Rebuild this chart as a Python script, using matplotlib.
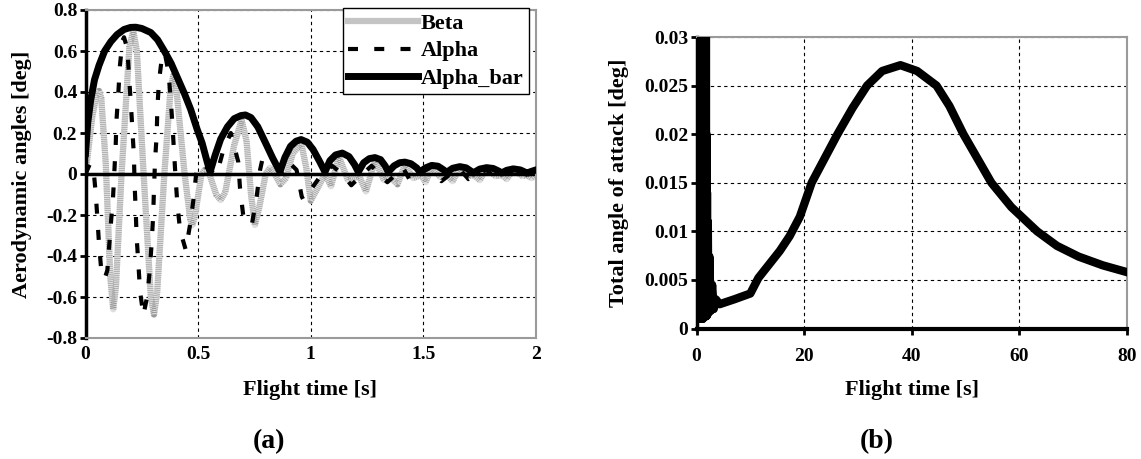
import matplotlib
matplotlib.use("Agg")
import matplotlib.pyplot as plt
import numpy as np

plt.rcParams['font.family'] = ['Liberation Serif', 'DejaVu Serif']
plt.rcParams['font.weight'] = 'bold'

# (a) aerodynamic angles [deg] vs flight time [s]
beta_pts = [
    (0.000, 0.00), (0.030, 0.28), (0.050, 0.39), (0.060, 0.405), (0.070, 0.37),
    (0.090, 0.05), (0.110, -0.50), (0.123, -0.66), (0.135, -0.55), (0.160, 0.00),
    (0.195, 0.62), (0.212, 0.70), (0.228, 0.60), (0.258, 0.00), (0.290, -0.60),
    (0.304, -0.685), (0.318, -0.58), (0.350, 0.00), (0.378, 0.42), (0.390, 0.48),
    (0.402, 0.43), (0.440, 0.00), (0.465, -0.22), (0.474, -0.25), (0.485, -0.21),
    (0.515, 0.00), (0.530, 0.02), (0.550, 0.00), (0.580, -0.10), (0.600, -0.127),
    (0.620, -0.09), (0.660, 0.14), (0.693, 0.264), (0.715, 0.16), (0.735, -0.10),
    (0.752, -0.249), (0.770, -0.17), (0.800, 0.00), (0.819, 0.03), (0.840, 0.00),
    (0.865, -0.05), (0.890, -0.02), (0.920, 0.10), (0.958, 0.15), (0.980, 0.03),
    (1.000, -0.13), (1.025, -0.08), (1.063, 0.00), (1.090, -0.06), (1.125, 0.085),
    (1.165, -0.03), (1.215, -0.01), (1.245, -0.085), (1.285, 0.065), (1.325, -0.03),
    (1.350, -0.01), (1.385, -0.05), (1.418, 0.045), (1.455, -0.02), (1.490, -0.005),
    (1.510, -0.04), (1.537, 0.035), (1.575, -0.015), (1.605, -0.005), (1.630, -0.035),
    (1.662, 0.03), (1.700, -0.01), (1.725, -0.005), (1.750, -0.03), (1.781, 0.025),
    (1.820, -0.01), (1.850, -0.005), (1.870, -0.025), (1.899, 0.02), (1.940, -0.01),
    (1.960, -0.005), (1.980, -0.02), (2.000, 0.00),
]

alpha_pts = [
    (0.000, 0.00), (0.020, 0.05), (0.035, 0.03), (0.045, -0.09), (0.053, -0.22),
    (0.060, -0.34), (0.070, -0.47), (0.085, -0.51), (0.097, -0.47), (0.112, -0.25),
    (0.122, -0.12), (0.134, 0.14), (0.138, 0.27), (0.146, 0.40), (0.153, 0.53),
    (0.164, 0.65), (0.171, 0.667), (0.186, 0.61), (0.193, 0.48), (0.201, 0.35),
    (0.208, 0.22), (0.215, 0.085), (0.218, -0.05), (0.223, -0.18), (0.227, -0.31),
    (0.235, -0.44), (0.242, -0.57), (0.257, -0.69), (0.275, -0.59), (0.286, -0.46),
    (0.294, -0.33), (0.301, -0.19), (0.304, -0.07), (0.309, 0.07), (0.316, 0.19),
    (0.319, 0.32), (0.326, 0.45), (0.341, 0.585), (0.352, 0.59), (0.368, 0.50),
    (0.378, 0.37), (0.386, 0.24), (0.393, 0.11), (0.400, -0.02), (0.408, -0.15),
    (0.420, -0.275), (0.445, -0.37), (0.467, -0.23), (0.482, -0.10), (0.494, 0.03),
    (0.520, 0.05), (0.550, 0.02), (0.582, -0.005), (0.612, 0.117), (0.645, 0.20),
    (0.678, 0.06), (0.686, -0.07), (0.700, -0.20), (0.738, -0.25), (0.760, -0.11),
    (0.775, 0.02), (0.797, 0.13), (0.810, 0.14), (0.840, 0.05), (0.865, 0.00),
    (0.900, 0.06), (0.937, 0.02), (0.960, -0.11), (0.967, -0.125), (1.004, -0.07),
    (1.050, 0.00), (1.095, 0.04), (1.140, 0.00), (1.180, -0.055), (1.230, 0.00),
    (1.270, 0.04), (1.310, -0.01), (1.340, -0.04), (1.380, 0.00), (1.410, 0.03),
    (1.440, -0.03), (1.480, 0.00), (1.530, 0.03), (1.580, -0.035), (1.620, 0.00),
    (1.660, 0.025), (1.700, -0.025), (1.740, 0.00), (1.780, 0.02), (1.820, -0.02),
    (1.860, 0.00), (1.900, 0.018), (1.940, -0.015), (1.970, 0.00), (2.000, 0.015),
]

alpha_bar_pts = [
    (0.000, 0.10), (0.010, 0.25), (0.023, 0.36), (0.040, 0.46), (0.060, 0.53),
    (0.085, 0.60), (0.112, 0.645), (0.140, 0.68), (0.171, 0.705), (0.200, 0.715),
    (0.223, 0.716), (0.250, 0.71), (0.290, 0.69), (0.320, 0.655), (0.350, 0.60),
    (0.380, 0.54), (0.408, 0.47), (0.440, 0.39), (0.467, 0.315), (0.495, 0.22),
    (0.518, 0.15), (0.540, 0.06), (0.553, 0.01),
    (0.575, 0.09), (0.600, 0.17), (0.630, 0.23), (0.660, 0.27), (0.690, 0.285),
    (0.710, 0.288), (0.735, 0.275), (0.765, 0.23), (0.800, 0.15), (0.830, 0.08),
    (0.863, 0.01),
    (0.885, 0.08), (0.910, 0.135), (0.935, 0.16), (0.957, 0.168), (0.985, 0.155),
    (1.010, 0.12), (1.040, 0.06), (1.063, 0.01),
    (1.085, 0.065), (1.110, 0.093), (1.140, 0.102), (1.170, 0.085), (1.195, 0.045),
    (1.211, 0.01),
    (1.235, 0.055), (1.260, 0.075), (1.285, 0.08), (1.310, 0.07), (1.330, 0.04),
    (1.344, 0.01),
    (1.370, 0.04), (1.395, 0.055), (1.418, 0.058), (1.445, 0.05), (1.470, 0.03),
    (1.485, 0.01),
    (1.510, 0.03), (1.537, 0.042), (1.565, 0.038), (1.590, 0.02), (1.603, 0.008),
    (1.630, 0.028), (1.662, 0.036), (1.690, 0.03), (1.710, 0.015), (1.721, 0.005),
    (1.750, 0.024), (1.781, 0.031), (1.810, 0.027), (1.835, 0.014), (1.847, 0.005),
    (1.870, 0.018), (1.899, 0.025), (1.930, 0.02), (1.950, 0.01), (1.958, 0.004),
    (1.980, 0.013), (2.000, 0.02),
]

# (b) total angle of attack [deg] vs flight time [s]
total_pts = [
    (0.0, 0.05), (0.05, 0.9), (0.1, 0.002), (0.15, 0.85), (0.2, 0.001), (0.25, 0.8),
    (0.3, 0.002), (0.35, 0.7), (0.4, 0.001), (0.45, 0.6), (0.5, 0.001), (0.55, 0.55),
    (0.6, 0.001), (0.65, 0.5), (0.7, 0.0012), (0.75, 0.4), (0.8, 0.0012), (0.85, 0.35),
    (0.9, 0.0011), (0.95, 0.3), (1.0, 0.0011), (1.05, 0.25), (1.1, 0.001), (1.15, 0.2),
    (1.2, 0.001), (1.25, 0.15), (1.3, 0.0012), (1.35, 0.12), (1.4, 0.0012), (1.45, 0.09),
    (1.5, 0.0012), (1.55, 0.06), (1.6, 0.0012), (1.65, 0.045), (1.7, 0.0013), (1.75, 0.03),
    (1.8, 0.0013), (1.85, 0.02), (1.9, 0.0013), (1.95, 0.014), (2.0, 0.0014),
    (2.1, 0.011), (2.2, 0.0016), (2.4, 0.0074), (2.6, 0.0018), (2.9, 0.0045),
    (3.2, 0.0020), (3.6, 0.0030), (4.3, 0.0025), (7.0, 0.0030), (10.0, 0.0036),
    (11.5, 0.0052), (13.5, 0.0066), (15.5, 0.0080), (17.3, 0.0095), (19.2, 0.0115),
    (21.4, 0.0150), (23.8, 0.0175), (26.2, 0.0200), (29.0, 0.0227), (31.7, 0.0250),
    (34.5, 0.0265), (37.9, 0.0271), (41.0, 0.0265), (44.6, 0.0250), (47.0, 0.0229),
    (49.6, 0.0200), (52.2, 0.0175), (54.8, 0.0150), (58.5, 0.0125), (63.3, 0.0100),
    (67.0, 0.0085), (71.0, 0.0074), (75.5, 0.0065), (80.0, 0.0058),
]

a_xticks = [0, 0.5, 1, 1.5, 2]
a_xlabels = ['0', '0.5', '1', '1.5', '2']
a_yticks = [0.8, 0.6, 0.4, 0.2, 0, -0.2, -0.4, -0.6, -0.8]
a_ylabels = ['0.8', '0.6', '0.4', '0.2', '0', '-0.2', '-0.4', '-0.6', '-0.8']
b_xticks = [0, 20, 40, 60, 80]
b_xlabels = ['0', '20', '40', '60', '80']
b_yticks = [0, 0.005, 0.01, 0.015, 0.02, 0.025, 0.03]
b_ylabels = ['0', '0.005', '0.01', '0.015', '0.02', '0.025', '0.03']

W, H = 1141, 459
fig = plt.figure(figsize=(W / 100, H / 100), dpi=100)

def style_axes(ax):
    ax.grid(True, color='black', linestyle=(0, (3, 3)), linewidth=0.8)
    ax.set_axisbelow(True)
    for s in ('top', 'right', 'bottom'):
        ax.spines[s].set_color('#9a9a9a')
        ax.spines[s].set_linewidth(1.5)
    ax.spines['left'].set_color('black')
    ax.spines['left'].set_linewidth(2.5)
    ax.tick_params(axis='y', direction='out', length=4, width=2, pad=2, labelsize=14)

# ---- (a)
ax1 = fig.add_axes([85.5 / W, 1 - 338 / H, (536 - 85.5) / W, 328 / H])
style_axes(ax1)
ax1.set_xlim(0, 2)
ax1.set_ylim(-0.8, 0.8)
ax1.set_xticks(a_xticks, a_xlabels)
ax1.set_yticks(a_yticks, a_ylabels)
ax1.tick_params(axis='x', length=0, pad=6, labelsize=14)

bt, bv = np.array(beta_pts).T
at, av = np.array(alpha_pts).T
abt, abv = np.array(alpha_bar_pts).T
# stippled grey band: light base with fine darker dots on top
ax1.plot(bt, bv, color='#dedede', lw=4.5, zorder=2)
ax1.plot(bt, bv, color='#9a9a9a', lw=4.5, linestyle=(0, (0.1, 0.2)), zorder=2.1)
ax1.axhline(0, color='black', lw=2.5, zorder=2.5)
ax1.plot(at, av, color='black', lw=3.0, linestyle=(0, (2.4, 3.9)), zorder=3)
ax1.plot(abt, abv, color='black', lw=5, zorder=4, solid_joinstyle='round')

# legend handles
h_beta, = ax1.plot([], [], color='#c4c4c4', lw=4.5, label='Beta')
h_alpha, = ax1.plot([], [], color='black', lw=3.0, linestyle=(0, (2.4, 3.9)), label='Alpha')
h_bar, = ax1.plot([], [], color='black', lw=5, label='Alpha_bar')
leg = ax1.legend(handles=[h_beta, h_alpha, h_bar], loc='upper right',
                 bbox_to_anchor=(529 / W, 1 - 8 / H),
                 bbox_transform=fig.transFigure, borderaxespad=0,
                 fancybox=False, framealpha=1, edgecolor='black',
                 prop={'size': 16, 'weight': 'bold'}, handlelength=3.15,
                 handletextpad=0.1, labelspacing=0.3, borderpad=0.25)
leg.get_frame().set_linewidth(1.0)
leg.set_zorder(10)

fig.text(22 / W, 1 - 174 / H, 'Aerodynamic angles [deg]', rotation=90,
         ha='center', va='center', fontsize=16, fontweight='bold')
fig.text(310 / W, 1 - 390 / H, 'Flight time [s]', ha='center', va='center',
         fontsize=16, fontweight='bold')
fig.text(269 / W, 1 - 442 / H, '(a)', ha='center', va='center',
         fontsize=20, fontweight='bold')

# ---- (b)
ax2 = fig.add_axes([696.5 / W, 1 - 328.5 / H, (1127 - 696.5) / W, (328.5 - 37) / H])
style_axes(ax2)
ax2.spines['bottom'].set_color('black')
ax2.spines['bottom'].set_linewidth(3)
ax2.set_xlim(0, 80)
ax2.set_ylim(0, 0.03)
ax2.set_xticks(b_xticks, b_xlabels)
ax2.set_yticks(b_yticks, b_ylabels)
ax2.tick_params(axis='x', direction='out', length=4, width=2, pad=10, labelsize=14)

tt, tv = np.array(total_pts).T
ax2.plot(tt, tv, color='black', lw=6, solid_joinstyle='round', zorder=3)

fig.text(619 / W, 1 - 183 / H, 'Total angle of attack [deg]', rotation=90,
         ha='center', va='center', fontsize=16, fontweight='bold')
fig.text(912 / W, 1 - 390 / H, 'Flight time [s]', ha='center', va='center',
         fontsize=16, fontweight='bold')
fig.text(877 / W, 1 - 442 / H, '(b)', ha='center', va='center',
         fontsize=20, fontweight='bold')

fig.savefig('out.png', dpi=100)
